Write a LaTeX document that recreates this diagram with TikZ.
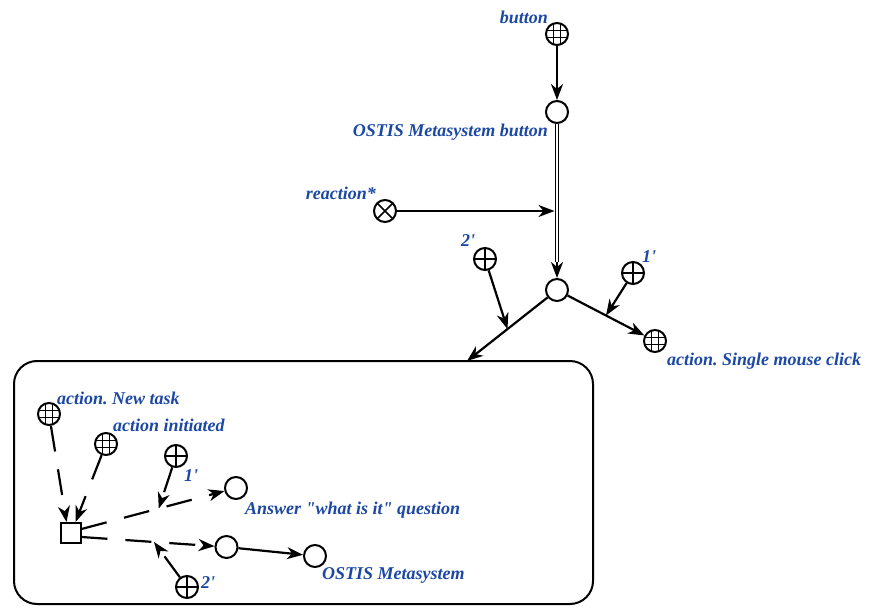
\documentclass[tikz,border=0pt]{standalone}
\usepackage{fontspec}
\setmainfont{Liberation Serif}
\usepackage{tikz}
\usetikzlibrary{arrows.meta,positioning,calc}
\usepackage{xcolor}

\definecolor{sclabel}{RGB}{28,72,165}

\tikzset{
  lbl/.style={text=sclabel, inner sep=0pt, font=\fontsize{18}{20}\selectfont\bfseries\itshape\frenchspacing},
  scnode/.style={circle, draw, line width=2pt, minimum size=22pt, inner sep=0pt},
  classnode/.style={scnode, path picture={
      \foreach \d in {-3.7pt,3.7pt} {
        \draw[line width=1.3pt] ([xshift=\d]path picture bounding box.north) -- ([xshift=\d]path picture bounding box.south);
        \draw[line width=1.3pt] ([yshift=\d]path picture bounding box.west) -- ([yshift=\d]path picture bounding box.east);
      }}},
  constnode/.style={scnode, path picture={
      \draw[line width=1.7pt] (path picture bounding box.north) -- (path picture bounding box.south)
        (path picture bounding box.west) -- (path picture bounding box.east);}},
  relnode/.style={scnode, path picture={
      \draw[line width=1.7pt] (path picture bounding box.north west) -- (path picture bounding box.south east)
        (path picture bounding box.north east) -- (path picture bounding box.south west);}},
  tuplenode/.style={draw, line width=2pt, minimum size=20pt, inner sep=0pt},
  arc/.style={line width=2.2pt, -{Stealth[length=16pt, width=12pt, inset=5pt]}},
  varc/.style={arc, dash pattern=on 26pt off 18pt},
  commonarc/.style={double, line width=1pt, double distance=2.4pt},
}

\begin{document}
\begin{tikzpicture}[x=1pt, y=-1pt]
  \useasboundingbox (0,0) rectangle (870,607);

  % Upper part
  \node[classnode] (button) at (557,34) {};
  \node[lbl, anchor=east] (buttonlbl) at (548,17) {button};
  \node[scnode] (metabtn) at (557,112) {};
  \node[lbl, anchor=east] (metabtnlbl) at (548,132) {OSTIS Metasystem button};
  \node[relnode] (reaction) at (385,211) {};
  \node[lbl, anchor=east] (reactionlbl) at (376,193) {reaction*};
  \node[scnode] (act) at (557,290) {};
  \node[constnode] (ptwo) at (485,259) {};
  \node[lbl] (ptwolbl) at (468,241) {2\textquotesingle};
  \node[constnode] (pone) at (633,273) {};
  \node[lbl] (ponelbl) at (649,257) {1\textquotesingle};
  \node[classnode] (click) at (655,341) {};
  \node[lbl, anchor=west] (clicklbl) at (667,361) {action. Single mouse click};

  % Structure contour
  \draw[line width=2pt, rounded corners=23pt] (14,361) rectangle (593,604);
  \coordinate (boxin) at (467,361);

  % Upper arcs
  \draw[arc] (button) -- (metabtn);
  \coordinate (dblend) at ($(act.north)+(0,-16)$);
  \draw[commonarc] (metabtn) -- (dblend);
  \draw[arc] (dblend) -- (act);
  \coordinate (jr) at (metabtn |- reaction);
  \draw[arc, shorten >=2.5pt] (reaction) -- (jr);
  \draw[arc] (act) -- (boxin);
  \coordinate (jtwo) at ($(act)!0.55!(boxin)$);
  \draw[arc] (ptwo) -- (jtwo);
  \draw[arc] (act) -- (click);
  \coordinate (jone) at ($(act)!0.5!(click)$);
  \draw[arc] (pone) -- (jone);

  % Inside the structure
  \node[classnode] (newtask) at (49,414) {};
  \node[lbl, anchor=west] (newtasklbl) at (57,398) {action. New task};
  \node[classnode] (initiated) at (106,444) {};
  \node[lbl, anchor=west] (initiatedlbl) at (113,425) {action initiated};
  \node[tuplenode] (tuple) at (70.5,533) {};
  \node[scnode] (answer) at (236,488) {};
  \node[lbl, anchor=west] (answerlbl) at (245,510) {Answer \textquotedbl what is it\textquotedbl\ question};
  \node[scnode] (result) at (226.5,547) {};
  \node[scnode] (meta) at (315,556) {};
  \node[lbl, anchor=west] (metalbl) at (322,575) {OSTIS Metasystem};
  \node[constnode] (oneinner) at (176,456) {};
  \node[lbl] (oneinnerlbl) at (191,476) {1\textquotesingle};
  \node[constnode] (twoinner) at (187,587) {};
  \node[lbl] (twoinnerlbl) at (208,583) {2\textquotesingle};

  % Inner arcs
  \draw[varc] (newtask) -- ([xshift=-4pt]tuple.north);
  \draw[varc] (initiated) -- ([xshift=5pt]tuple.north);
  \draw[varc] ([yshift=4pt]tuple.east) -- (answer);
  \coordinate (jonein) at ($([yshift=4pt]tuple.east)!0.5!(answer)$);
  \draw[varc] (oneinner) -- (jonein);
  \draw[varc] ([yshift=-4pt]tuple.east) -- (result);
  \coordinate (jtwoin) at ($([yshift=-4pt]tuple.east)!0.5!(result)$);
  \draw[varc] (twoinner) -- (jtwoin);
  \draw[arc] (result) -- (meta);
\end{tikzpicture}
\end{document}
